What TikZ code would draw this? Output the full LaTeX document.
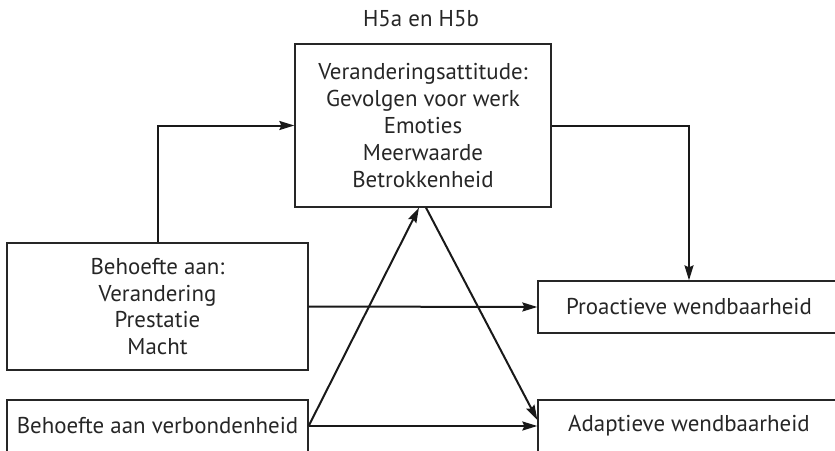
\documentclass[tikz,border=0pt]{standalone}
\usepackage{fontspec}
\setmainfont{PT Sans}
\usetikzlibrary{arrows.meta}
\begin{document}
\begin{tikzpicture}[x=1pt,y=-1pt,
  box/.style={draw=black!85,line width=1.3pt,inner sep=0pt,align=center,
    font=\fontsize{22.9}{26.8}\selectfont,text=black!85},
  arr/.style={draw=black!90,line width=2pt,-{Stealth[length=15pt,width=9pt,inset=2pt]}},
  lbl/.style={font=\fontsize{22.9}{26.8}\selectfont,text=black!85,inner sep=0pt}]
\useasboundingbox (0,0) rectangle (835,450);
\clip (0,0) rectangle (835,450);
\node[lbl] (h) at (421,19) {H5a en H5b};
\node[box,minimum width=256pt,minimum height=163pt] (top) at (423,125.5)
  {Veranderingsattitude:\\Gevolgen voor werk\\Emoties\\Meerwaarde\\Betrokkenheid};
\node[box,minimum width=301pt,minimum height=127pt] (left) at (157.5,306.5)
  {Behoefte aan:\\Verandering\\Prestatie\\Macht};
\node[box,minimum width=301pt,minimum height=52pt] (bot) at (157.5,426)
  {Behoefte aan verbondenheid};
\node[box,minimum width=302pt,minimum height=52pt] (pro) at (689,307)
  {Proactieve wendbaarheid};
\node[box,minimum width=302pt,minimum height=52pt] (ada) at (689,426)
  {Adaptieve wendbaarheid};
\draw[arr] (left.north) |- (top.west);
\draw[arr] (top.east) -| (pro.north);
\draw[arr] (left.east) -- (pro.west);
\draw[arr] (bot.east) -- (ada.west);
\draw[arr] (bot.east) -- ([xshift=-4pt]top.south);
\draw[arr] ([xshift=3pt]top.south) -- ([yshift=6pt]ada.west);
\end{tikzpicture}
\end{document}
